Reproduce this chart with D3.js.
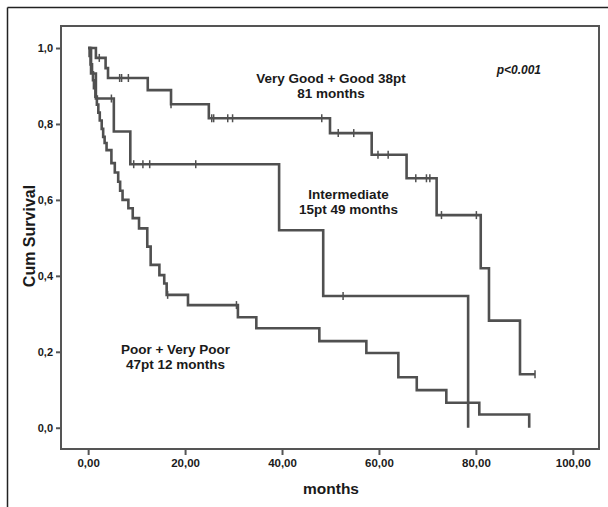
<!DOCTYPE html>
<html>
<head>
<meta charset="utf-8">
<script src="https://cdn.jsdelivr.net/npm/d3@7"></script>
<style>
  html, body { margin: 0; padding: 0; background: #fff; }
  svg { display: block; font-family: "Liberation Sans", Arial, sans-serif; }
</style>
</head>
<body>
<svg id="chart" width="608" height="507"></svg>
<script>
// ---- Data ----
const goodTimes = [0, 1.6, 3.6, 4.1, 12.3, 17.1, 24.9, 49.9, 58.5, 65.7, 71.9, 81.0, 82.7, 89.1, 92.2];
const goodSurv  = [1.0, 0.974, 0.947, 0.921, 0.889, 0.852, 0.815, 0.776, 0.719, 0.657, 0.560, 0.420, 0.282, 0.141, 0.141];
const goodCensored = [2.3, 6.5, 6.9, 8.3, 17.1, 25.5, 25.9, 28.8, 29.8, 48.2, 51.6, 54.8, 59.8, 61.9, 67.6, 69.8, 70.5, 72.9, 80.1, 92.2];

const interTimes = [0, 0.6, 1.6, 5.3, 8.7, 39.4, 48.5, 78.4];
const interSurv  = [1.0, 0.933, 0.867, 0.780, 0.694, 0.520, 0.347, 0.0];
const interCensored = [4.8, 9.4, 11.3, 12.7, 22.2, 52.6];

const poorTimes = [0, 0.3, 0.5, 0.8, 1.0, 1.2, 1.5, 1.8, 2.1, 2.4, 2.8, 3.1, 3.4, 3.8, 4.8, 5.5, 6.2, 6.6, 7.1, 8.3, 9.2, 10.5, 12.2, 12.9, 14.7, 15.7, 16.2, 20.6, 30.9, 34.7, 47.7, 57.4, 64.0, 67.8, 73.9, 80.7, 91.0];
const poorSurv  = [1.0, 0.979, 0.957, 0.936, 0.915, 0.894, 0.872, 0.851, 0.830, 0.809, 0.787, 0.766, 0.750, 0.731, 0.697, 0.672, 0.648, 0.624, 0.600, 0.578, 0.552, 0.525, 0.477, 0.429, 0.402, 0.380, 0.350, 0.323, 0.291, 0.262, 0.228, 0.197, 0.133, 0.099, 0.066, 0.035, 0.0];
const poorCensored = [16.4, 30.6];

const xTicks = [0, 20, 40, 60, 80, 100];
const yTicks = [0, 0.2, 0.4, 0.6, 0.8, 1.0];

const labels = [
  { lines: ["Very Good + Good 38pt", "81 months"], x: 331, y: 82.8 },
  { lines: ["Intermediate", "15pt 49 months"], x: 348.5, y: 199.2 },
  { lines: ["Poor + Very Poor", "47pt 12 months"], x: 175.5, y: 354.2 }
];

// ---- Drawing ----
const svg = d3.select("#chart");
const W = 608, H = 507;
svg.append("rect").attr("width", W).attr("height", H).attr("fill", "#fff");

// outer frame (top and left only visible)
svg.append("line").attr("x1", 7.5).attr("y1", 7.5).attr("x2", W).attr("y2", 7.5)
  .attr("stroke", "#222").attr("stroke-width", 1.5);
svg.append("line").attr("x1", 7.5).attr("y1", 7.5).attr("x2", 7.5).attr("y2", H)
  .attr("stroke", "#222").attr("stroke-width", 1.5);

const box = { left: 61, top: 26, right: 599, bottom: 449 };
const x = d3.scaleLinear().domain([-5.6, 105.4]).range([box.left, box.right]);
const y = d3.scaleLinear().domain([-0.056, 1.058]).range([box.bottom, box.top]);

// plot frame
svg.append("rect")
  .attr("x", box.left).attr("y", box.top)
  .attr("width", box.right - box.left).attr("height", box.bottom - box.top)
  .attr("fill", "none").attr("stroke", "#555").attr("stroke-width", 2);

// axes
const yAxis = d3.axisLeft(y).tickValues(yTicks).tickSize(5).tickPadding(3)
  .tickFormat(d => d3.format(".1f")(d).replace(".", ","));
const gy = svg.append("g").attr("transform", `translate(${box.left},0)`).call(yAxis);
gy.select(".domain").remove();
gy.selectAll(".tick line").attr("stroke", "#555").attr("stroke-width", 2);
gy.selectAll(".tick text").attr("fill", "#1a1a1a").attr("font-size", 11).attr("font-weight", "bold")
  .attr("font-family", "Liberation Sans, Arial, sans-serif");

const xAxis = d3.axisBottom(x).tickValues(xTicks).tickSize(6).tickPadding(4)
  .tickFormat(d => d3.format(".2f")(d).replace(".", ","));
const gx = svg.append("g").attr("transform", `translate(0,${box.bottom})`).call(xAxis);
gx.select(".domain").remove();
gx.selectAll(".tick line").attr("stroke", "#555").attr("stroke-width", 2);
gx.selectAll(".tick text").attr("fill", "#1a1a1a").attr("font-size", 11.5).attr("font-weight", "bold")
  .attr("font-family", "Liberation Sans, Arial, sans-serif");

// axis titles
svg.append("text").attr("x", 331).attr("y", 494).attr("text-anchor", "middle")
  .attr("font-size", 15.5).attr("font-weight", "bold").attr("fill", "#1a1a1a").text("months");
svg.append("text").attr("transform", "translate(35,236) rotate(-90)").attr("text-anchor", "middle")
  .attr("font-size", 16).attr("font-weight", "bold").attr("fill", "#1a1a1a").text("Cum Survival");

// curves
const lineGen = d3.line().x(d => x(d[0])).y(d => y(d[1])).curve(d3.curveStepAfter);
const series = [
  { t: goodTimes, s: goodSurv, c: goodCensored },
  { t: interTimes, s: interSurv, c: interCensored },
  { t: poorTimes, s: poorSurv, c: poorCensored }
];
function survAt(ser, time) {
  let v = ser.s[0];
  for (let i = 0; i < ser.t.length; i++) { if (ser.t[i] <= time) v = ser.s[i]; }
  return v;
}
series.forEach(ser => {
  const pts = ser.t.map((t, i) => [t, ser.s[i]]);
  svg.append("path").datum(pts).attr("d", lineGen)
    .attr("fill", "none").attr("stroke", "#505050").attr("stroke-width", 2.6)
    .attr("stroke-linejoin", "miter");
  svg.selectAll(null).data(ser.c).enter().append("line")
    .attr("x1", d => x(d)).attr("x2", d => x(d))
    .attr("y1", d => y(survAt(ser, d)) - 4).attr("y2", d => y(survAt(ser, d)) + 4)
    .attr("stroke", "#505050").attr("stroke-width", 1.5);
});

// annotation labels (one text element per line)
const labelSize = 13.5, labelGap = 15.2;
labels.forEach(l => {
  l.lines.forEach((line, i) => {
    svg.append("text").attr("text-anchor", "middle").attr("font-size", labelSize)
      .attr("font-weight", "bold").attr("fill", "#1a1a1a")
      .attr("x", l.x).attr("y", l.y + i * labelGap).text(line);
  });
});

// p-value
svg.append("text").attr("x", 541).attr("y", 74).attr("text-anchor", "end")
  .attr("font-size", 12).attr("font-weight", "bold").attr("font-style", "italic")
  .attr("fill", "#1a1a1a").text("p<0.001");
</script>
</body>
</html>
